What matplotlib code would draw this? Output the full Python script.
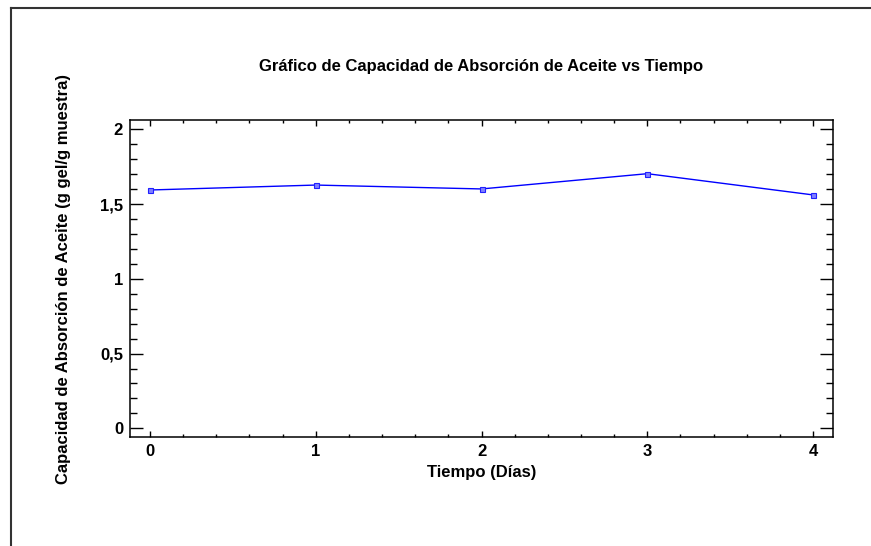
import numpy as np
import matplotlib
matplotlib.use("Agg")
import matplotlib.pyplot as plt
from matplotlib.ticker import MultipleLocator, FuncFormatter
from matplotlib.lines import Line2D

plt.rcParams['font.family'] = ['Liberation Sans', 'DejaVu Sans']
plt.rcParams['font.weight'] = 'bold'

# datos
dias = [0, 1, 2, 3, 4]
capacidad = [1.594, 1.627, 1.601, 1.703, 1.561]

titulo = "Gráfico de Capacidad de Absorción de Aceite vs Tiempo"
etiqueta_x = "Tiempo (Días)"
etiqueta_y = "Capacidad de Absorción de Aceite (g gel/g muestra)"

fig = plt.figure(figsize=(8.71, 5.46), dpi=100)
ax = fig.add_axes([0.1493, 0.1996, 0.8071, 0.5806])

ax.plot(dias, capacidad, color='#0000ff', lw=1.0, marker='s', ms=3.6,
        mfc='#8080ff', mec='#2020ff', mew=0.8)

ax.set_xlim(-0.12, 4.12)
ax.set_ylim(-0.058, 2.062)

ax.xaxis.set_major_locator(MultipleLocator(1))
ax.xaxis.set_minor_locator(MultipleLocator(0.2))
ax.yaxis.set_major_locator(MultipleLocator(0.5))
ax.yaxis.set_minor_locator(MultipleLocator(0.1))
ax.yaxis.set_major_formatter(FuncFormatter(lambda v, p: ('%g' % v).replace('.', ',')))

ax.tick_params(axis='both', which='both', direction='in', top=True, right=True,
               width=1.0, labelsize=12, colors='black')
ax.tick_params(axis='y', which='major', length=9.5, pad=5)
ax.tick_params(axis='y', which='minor', length=5)
ax.tick_params(axis='x', which='major', length=4.5, pad=5)
ax.tick_params(axis='x', which='minor', length=2.2)
for lab in ax.get_xticklabels() + ax.get_yticklabels():
    lab.set_fontweight('bold')

for s in ax.spines.values():
    s.set_linewidth(1.1)

ax.set_title(titulo, fontsize=12, fontweight='bold', pad=35)
ax.set_xlabel(etiqueta_x, fontsize=12, fontweight='bold', labelpad=4)
ax.set_ylabel(etiqueta_y, fontsize=12, fontweight='bold', labelpad=21)

# marco exterior (solo bordes superior e izquierdo visibles)
fig.add_artist(Line2D([11/871, 11/871], [0, 1 - 8/546], color='#333333', lw=1.5))
fig.add_artist(Line2D([11/871, 1], [1 - 8/546, 1 - 8/546], color='#333333', lw=1.5))

fig.savefig("out.png", dpi=100)
